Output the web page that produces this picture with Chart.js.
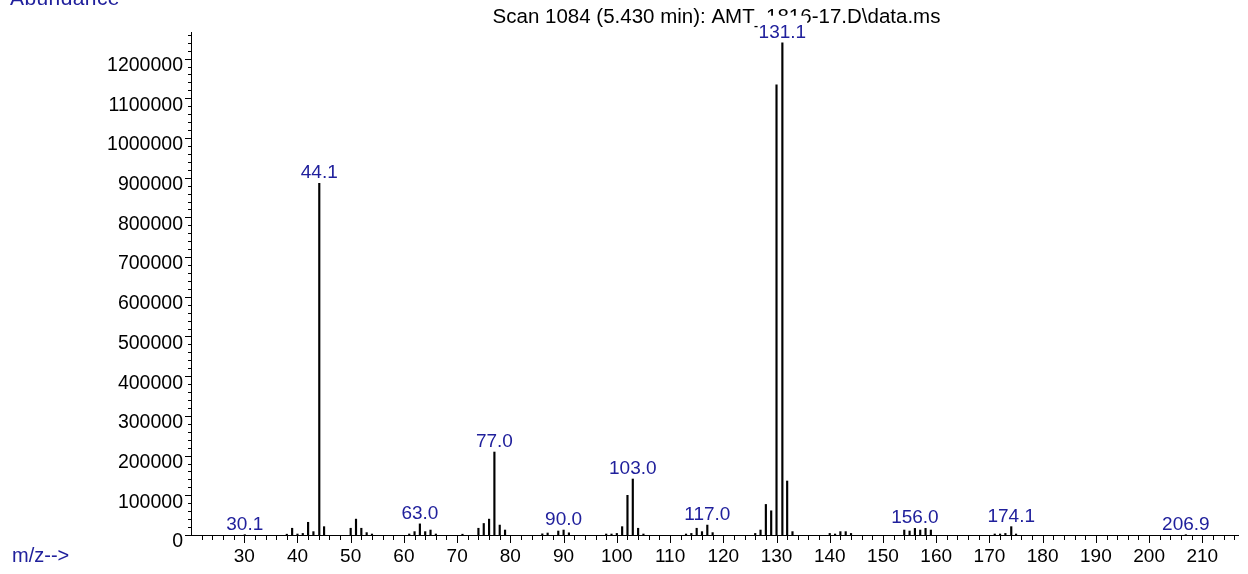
<!DOCTYPE html>
<html><head><meta charset="utf-8">
<script src="https://cdn.jsdelivr.net/npm/chart.js@4.4.1/dist/chart.umd.min.js"></script>
<style>html,body{margin:0;padding:0;background:#fff;}canvas{display:block;}</style>
</head><body>
<canvas id="c" width="1248" height="574"></canvas>
<script>
const titleText = 'Scan 1084 (5.430 min): AMT_1816-17.D\\data.ms';
const yAxisTitle = 'Abundance';
const xAxisTitle = 'm/z-->';
const mzValues = [30.1, 38, 39, 40, 41, 42, 43, 44.1, 45, 50, 51, 52, 53, 54, 61, 62, 63, 64, 65, 66, 71, 74, 75, 76, 77, 78, 79, 86, 87, 89, 90, 91, 98, 99, 100, 101, 102, 103, 104, 105, 113, 114, 115, 116, 117, 118, 126, 127, 128, 129, 130, 131.1, 132, 133, 140, 141, 142, 143, 144, 154, 155, 156, 157, 158, 159, 171, 172, 173, 174.1, 175, 206.9];
const abundances = [800, 2000, 17000, 2500, 4000, 32000, 8500, 886000, 21000, 17000, 40000, 17000, 6000, 2500, 2500, 8500, 28000, 8500, 12500, 2500, 2000, 17000, 29000, 40000, 209000, 25000, 12500, 3000, 5000, 10000, 12500, 5500, 2500, 2500, 4000, 21000, 100000, 141000, 17000, 2500, 2500, 4000, 17000, 8500, 25000, 6000, 4000, 12500, 77000, 61000, 1134000, 1240000, 136000, 8500, 4000, 2500, 8500, 8500, 4000, 12500, 10000, 16700, 12500, 16700, 12500, 2500, 2500, 4000, 21000, 2500, 800];
const labelMz = [30.1, 44.1, 63, 77, 90, 103, 117, 131.1, 156, 174.1, 206.9];
const labelTexts = ['30.1', '44.1', '63.0', '77.0', '90.0', '103.0', '117.0', '131.1', '156.0', '174.1', '206.9'];
const xTickValues = [30, 40, 50, 60, 70, 80, 90, 100, 110, 120, 130, 140, 150, 160, 170, 180, 190, 200, 210];
const yTickValues = [0, 100000, 200000, 300000, 400000, 500000, 600000, 700000, 800000, 900000, 1000000, 1100000, 1200000];
const xMin = 20, xMax = 216.7, yMax = 1267000;
const FONT = '"Liberation Sans", Arial, sans-serif';
const BLUE = '#20209c';

const decor = {
  id: 'decor',
  beforeDraw(chart) {
    const ctx = chart.ctx, ca = chart.chartArea;
    ctx.save();
    ctx.fillStyle = '#fff';
    ctx.fillRect(0, 0, chart.width, chart.height);
    ctx.fillStyle = '#000';
    ctx.font = '20.5px ' + FONT;
    ctx.textAlign = 'center';
    ctx.textBaseline = 'alphabetic';
    ctx.fillText(titleText, (ca.left + ca.right) / 2 + 2, 23);
    ctx.fillStyle = BLUE;
    ctx.textAlign = 'left';
    ctx.font = '21px ' + FONT;
    ctx.letterSpacing = '0.4px';
    ctx.fillText(yAxisTitle, 10, 5);
    ctx.letterSpacing = '0px';
    ctx.font = '20px ' + FONT;
    ctx.textBaseline = 'middle';
    ctx.fillText(xAxisTitle, 12, 556);
    ctx.restore();
  },
  afterDraw(chart) {
    const ctx = chart.ctx, ca = chart.chartArea;
    const xs = chart.scales.x, ys = chart.scales.y;
    ctx.save();
    ctx.strokeStyle = '#000';
    ctx.lineWidth = 1;
    ctx.beginPath();
    for (let v = 22; v <= xMax; v += 2) {
      const px = Math.round(xs.getPixelForValue(v)) + 0.5;
      const len = v % 10 === 0 ? 8 : 5;
      ctx.moveTo(px, ca.bottom);
      ctx.lineTo(px, ca.bottom + len);
    }
    for (let v = 0; v <= yMax; v += 20000) {
      const py = Math.round(ys.getPixelForValue(v)) + 0.5;
      const len = v % 100000 === 0 ? 6 : 3;
      ctx.moveTo(ca.left - len, py);
      ctx.lineTo(ca.left, py);
    }
    ctx.stroke();
    ctx.font = '19px ' + FONT;
    ctx.textAlign = 'center';
    ctx.textBaseline = 'alphabetic';
    labelMz.forEach((m, i) => {
      const idx = mzValues.indexOf(m);
      const px = xs.getPixelForValue(m);
      const py = ys.getPixelForValue(abundances[idx]);
      const w = ctx.measureText(labelTexts[i]).width;
      const by = py - 5;
      ctx.fillStyle = '#fff';
      ctx.fillRect(px - w / 2 - 1, by - 22, w + 2, 21);
      ctx.fillStyle = BLUE;
      ctx.fillText(labelTexts[i], px, by);
    });
    ctx.restore();
  }
};

new Chart(document.getElementById('c'), {
  type: 'bar',
  data: {
    datasets: [{
      data: mzValues.map((m, i) => ({ x: m, y: abundances[i] })),
      backgroundColor: '#000',
      borderWidth: 0,
      barThickness: 1.5
    }]
  },
  options: {
    responsive: false,
    animation: false,
    devicePixelRatio: 1,
    layout: { padding: { top: 32, right: 10, left: 0, bottom: 0 } },
    plugins: { legend: { display: false }, tooltip: { enabled: false }, title: { display: false } },
    scales: {
      x: {
        type: 'linear', min: xMin, max: xMax, offset: false,
        grid: { display: false, drawTicks: false },
        border: { display: true, color: '#000', width: 1 },
        afterBuildTicks(s) { s.ticks = xTickValues.map(v => ({ value: v })); },
        ticks: {
          autoSkip: false, maxRotation: 0, minRotation: 0,
          padding: 10, color: '#000', font: { family: FONT, size: 19 },
          callback: v => String(Math.round(v))
        },
        afterFit(s) { s.height = 39; }
      },
      y: {
        type: 'linear', min: 0, max: yMax,
        grid: { display: false, drawTicks: false },
        border: { display: true, color: '#000', width: 1 },
        afterBuildTicks(s) { s.ticks = yTickValues.map(v => ({ value: v })); },
        ticks: {
          autoSkip: false, padding: 8, labelOffset: 7,
          color: '#000', font: { family: FONT, size: 19.5 },
          callback: v => String(Math.round(v))
        },
        afterFit(s) { s.width = 191; }
      }
    }
  },
  plugins: [decor]
});
</script>
</body></html>
